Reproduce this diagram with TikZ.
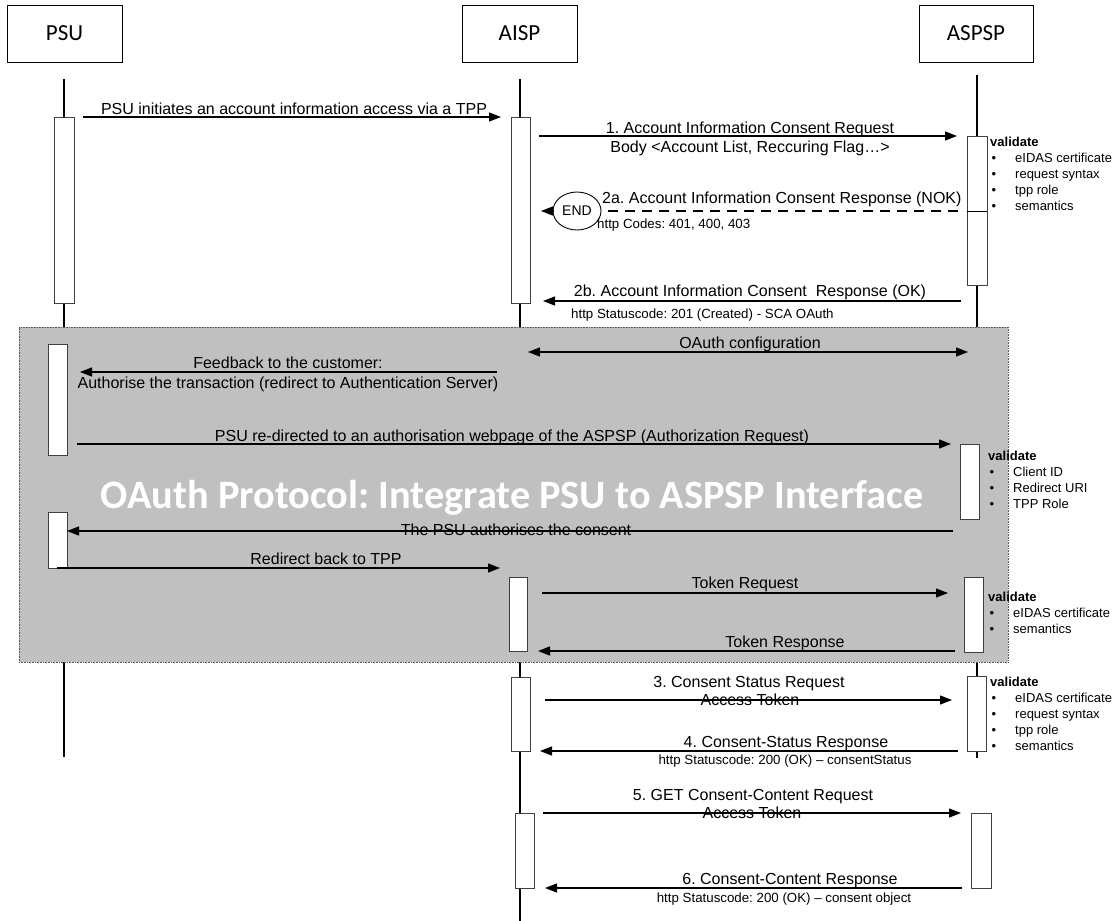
\documentclass[tikz,border=0pt]{standalone}
\usepackage{fontspec}
\setmainfont{Liberation Sans}
\newfontfamily\carlito{Carlito}
\usetikzlibrary{arrows.meta,shapes.geometric}
\definecolor{boxgray}{RGB}{192,192,192}
\frenchspacing
\begin{document}
\begin{tikzpicture}[x=1pt,y=-1pt,
  hdr/.style={draw, line width=0.9pt, minimum width=115pt, minimum height=57pt, inner sep=0, font=\carlito\fontsize{23}{26}\selectfont},
  life/.style={line width=2.6pt},
  act/.style={draw=black!75, fill=white, line width=0.9pt, inner sep=0},
  msg/.style={line width=1.3pt, -{Triangle[length=12pt,width=9pt]}},
  dmsg/.style={line width=1.3pt, {Triangle[length=12pt,width=9pt]}-{Triangle[length=12pt,width=9pt]}},
  dsh/.style={line width=1.3pt, dash pattern=on 10pt off 7pt},
  lbl/.style={font=\fontsize{16}{19}\selectfont, anchor=base, inner sep=0},
  small/.style={font=\fontsize{13.3}{16}\selectfont, anchor=base, inner sep=0},
  vlist/.style={font=\fontsize{13}{16}\selectfont, anchor=base west, inner sep=0, align=left},
  oauthbox/.style={fill=boxgray, draw=black!65, densely dotted, line width=0.6pt, inner sep=0},
  bigtitle/.style={font=\carlito\bfseries\fontsize{40.3}{44}\selectfont, text=white, anchor=base, inner sep=0}
]
\useasboundingbox (0,0) rectangle (1117,921);

% header boxes
\node[hdr] (psu) at (64.5,33.5) {PSU};
\node[hdr] (aisp) at (519.5,33.5) {AISP};
\node[hdr, minimum width=114pt] (aspsp) at (976,33.5) {ASPSP};

% lifelines
\coordinate (psuT) at (64,79);   \coordinate (psuB) at (64,757);
\coordinate (aispT) at (520,79); \coordinate (aispB) at (520,921);
\coordinate (aspspT) at (977,75); \coordinate (aspspB) at (977,758);
\draw[life] (psuT) -- (psuB);
\draw[life] (aispT) -- (aispB);
\draw[life] (aspspT) -- (aspspB);

% activations before OAuth box
\node[act, minimum width=20pt, minimum height=186pt] (a1) at (64,210) {};
\node[act, minimum width=19pt, minimum height=186pt] (a2) at (520.5,210) {};
\node[act, minimum width=20pt, minimum height=149pt] (a3) at (977,210.5) {};
\draw[line width=0.9pt] (a3.west |- 0,211) -- (a3.east |- 0,211);

% validate list 1
\node[vlist] (v1) at (990,146) {\begin{tabular}[t]{@{}p{25pt}@{}l@{}}\multicolumn{2}{@{}l@{}}{\bfseries validate}\\ \hspace{1.5pt}• & eIDAS certificate\\ \hspace{1.5pt}• & request syntax\\ \hspace{1.5pt}• & tpp role\\ \hspace{1.5pt}• & semantics\end{tabular}};

% message 0
\coordinate (m0s) at (83,117); \coordinate (m0e) at (501,117);
\draw[msg] (m0s) -- (m0e);
\node[lbl] (t0) at (294,114) {PSU initiates an account information access via a TPP};

% message 1
\coordinate (m1s) at (539,136); \coordinate (m1e) at (957,136);
\draw[msg] (m1s) -- (m1e);
\node[lbl] (t1) at (750,133) {1. Account Information Consent Request};
\node[lbl] (t1b) at (750,152) {Body <Account List, Reccuring Flag…>};

% message 2a
\node[ellipse, draw, line width=0.9pt, minimum width=48pt, minimum height=38pt, inner sep=0, font=\fontsize{14}{16}\selectfont] (endn) at (577,211) {END};
\coordinate (m2as) at (958,211); \coordinate (m2ae) at (541,211);
\draw[dsh] (m2as) -- (endn.east);
\draw[msg] (endn.west) -- (m2ae);
\node[lbl, anchor=base west] (t2a) at (602,203) {2a. Account Information Consent Response (NOK)};
\node[small, anchor=base west] (t2ah) at (597,228) {http Codes: 401, 400, 403};

% message 2b
\coordinate (m2bs) at (961,301); \coordinate (m2be) at (543,301);
\draw[msg] (m2bs) -- (m2be);
\node[lbl] (t2b) at (750,296) {2b. Account Information Consent\ \ Response (OK)};
\node[small, anchor=base west] (t2bh) at (571,318) {http Statuscode: 201 (Created) - SCA OAuth};

% OAuth box
\node[oauthbox, minimum width=989pt, minimum height=335pt] (oauth) at (513.5,494.5) {};
\node[bigtitle] (title) at (512,508) {OAuth Protocol: Integrate PSU to ASPSP Interface};

\node[act, minimum width=19pt, minimum height=111pt] (g1) at (57.5,399.5) {};
\node[act, minimum width=19pt, minimum height=75pt] (g2) at (969.5,481.5) {};
\node[act, minimum width=19pt, minimum height=56pt] (g3) at (57.5,540) {};
\node[act, minimum width=18pt, minimum height=74pt] (g4) at (518.5,614) {};
\node[act, minimum width=19pt, minimum height=75pt] (g5) at (973.5,614.5) {};

\coordinate (ocs) at (528,352); \coordinate (oce) at (968,352);
\draw[dmsg] (ocs) -- (oce);
\node[lbl] (toc) at (750,348) {OAuth configuration};

\coordinate (fbs) at (497,372); \coordinate (fbe) at (80,372);
\draw[msg] (fbs) -- (fbe);
\node[lbl] (tfb1) at (288,368) {Feedback to the customer:};
\node[lbl] (tfb2) at (288,388) {Authorise the transaction (redirect to Authentication Server)};

\coordinate (rds) at (77,444); \coordinate (rde) at (951,444);
\draw[msg] (rds) -- (rde);
\node[lbl] (trd) at (512,441) {PSU re-directed to an authorisation webpage of the ASPSP (Authorization Request)};

\node[vlist] (v2) at (988,460.5) {\begin{tabular}[t]{@{}p{25pt}@{}l@{}}\multicolumn{2}{@{}l@{}}{\bfseries validate}\\ \hspace{1.5pt}• & Client ID\\ \hspace{1.5pt}• & Redirect URI\\ \hspace{1.5pt}• & TPP Role\end{tabular}};

\coordinate (aus) at (953,531); \coordinate (aue) at (67,531);
\draw[msg] (aus) -- (aue);
\node[lbl] (tau) at (516,535) {The PSU authorises the consent};

\coordinate (rbs) at (57,568); \coordinate (rbe) at (500,568);
\draw[msg] (rbs) -- (rbe);
\node[lbl] (trb) at (326,564) {Redirect back to TPP};

\coordinate (trqs) at (542,593); \coordinate (trqe) at (948,593);
\draw[msg] (trqs) -- (trqe);
\node[lbl] (ttrq) at (745,588) {Token Request};

\coordinate (trss) at (955,651); \coordinate (trse) at (538,651);
\draw[msg] (trss) -- (trse);
\node[lbl] (ttrs) at (785,647) {Token Response};

\node[vlist] (v3) at (988,601.5) {\begin{tabular}[t]{@{}p{25pt}@{}l@{}}\multicolumn{2}{@{}l@{}}{\bfseries validate}\\ \hspace{1.5pt}• & eIDAS certificate\\ \hspace{1.5pt}• & semantics\end{tabular}};

% after OAuth box
\node[act, minimum width=19pt, minimum height=74pt] (b1) at (520.5,714) {};
\node[act, minimum width=19pt, minimum height=75pt] (b2) at (976.5,713.5) {};
\node[act, minimum width=19pt, minimum height=75pt] (b3) at (524.5,850.5) {};
\node[act, minimum width=20pt, minimum height=75pt] (b4) at (981,850.5) {};

\node[vlist] (v4) at (990,686.5) {\begin{tabular}[t]{@{}p{25pt}@{}l@{}}\multicolumn{2}{@{}l@{}}{\bfseries validate}\\ \hspace{1.5pt}• & eIDAS certificate\\ \hspace{1.5pt}• & request syntax\\ \hspace{1.5pt}• & tpp role\\ \hspace{1.5pt}• & semantics\end{tabular}};

\coordinate (m3s) at (545,700); \coordinate (m3e) at (952,700);
\draw[msg] (m3s) -- (m3e);
\node[lbl] (t3) at (749,687) {3. Consent Status Request};
\node[lbl] (t3b) at (750,705) {Access Token};

\coordinate (m4s) at (958,751); \coordinate (m4e) at (540,751);
\draw[msg] (m4s) -- (m4e);
\node[lbl] (t4) at (786,747) {4. Consent-Status Response};
\node[small] (t4h) at (785,764) {http Statuscode: 200 (OK) – consentStatus};

\coordinate (m5s) at (543,813); \coordinate (m5e) at (961,813);
\draw[msg] (m5s) -- (m5e);
\node[lbl] (t5) at (753,800) {5. GET Consent-Content Request};
\node[lbl] (t5b) at (752,818) {Access Token};

\coordinate (m6s) at (962,888); \coordinate (m6e) at (545,888);
\draw[msg] (m6s) -- (m6e);
\node[lbl] (t6) at (790,884) {6. Consent-Content Response};
\node[small] (t6h) at (784,902) {http Statuscode: 200 (OK) – consent object};
\end{tikzpicture}
\end{document}
